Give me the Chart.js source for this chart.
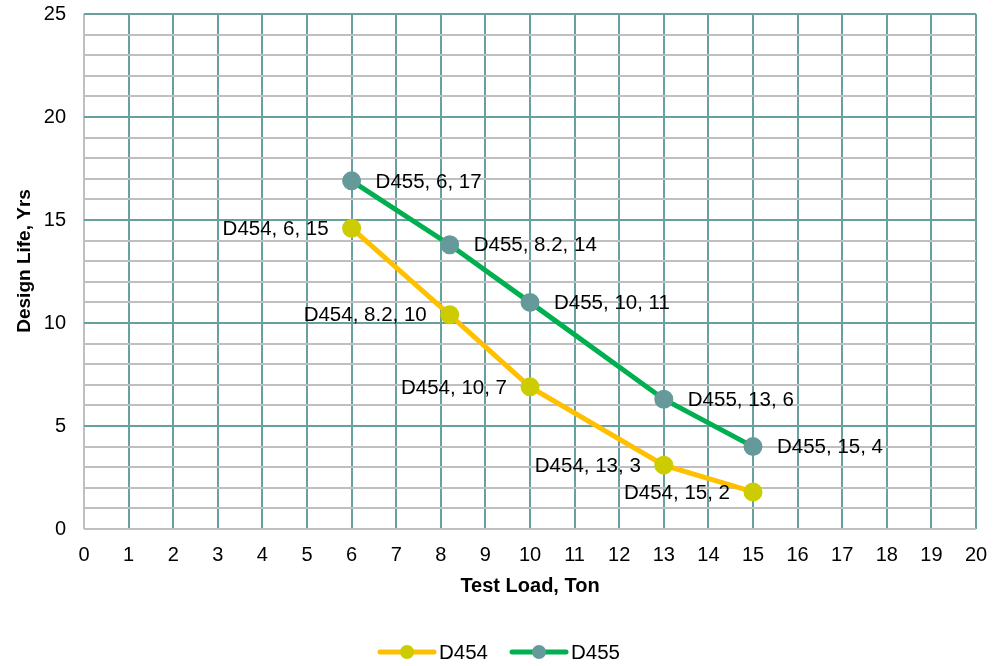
<!DOCTYPE html>
<html>
<head>
<meta charset="utf-8">
<script src="https://cdn.jsdelivr.net/npm/chart.js@4/dist/chart.umd.min.js"></script>
<style>
  html, body { margin: 0; padding: 0; background: #fff; }
  #wrap { width: 994px; height: 666px; }
</style>
</head>
<body>
<div id="wrap"><canvas id="canva1" width="994" height="666"></canvas></div>
<script>
// data
const testLoad = [6, 8.2, 10, 13, 15];
const d454Life = [14.6, 10.4, 6.9, 3.1, 1.8];
const d455Life = [16.9, 13.8, 11.0, 6.3, 4.0];
const seriesNames = ['D454', 'D455'];

// colours
const tealGrid = '#68A0A0';
const grayGrid = '#BFBFBF';
const textColor = '#000000';
const fontFamily = '"Liberation Sans", Arial, sans-serif';

const d454Style = { line: '#FFC000', marker: '#CCCC00', labelSide: 'left' };
const d455Style = { line: '#00B050', marker: '#669999', labelSide: 'right' };

const toPoints = (xs, ys) => xs.map((x, i) => ({ x: x, y: ys[i] }));

// point labels like "D454, 6, 15"
const pointLabels = {
    id: 'pointLabels',
    afterDatasetsDraw(chart) {
        const ctx = chart.ctx;
        ctx.save();
        ctx.font = '20.5px ' + fontFamily;
        ctx.fillStyle = textColor;
        ctx.textBaseline = 'middle';
        chart.data.datasets.forEach((ds, di) => {
            const meta = chart.getDatasetMeta(di);
            meta.data.forEach((pt, i) => {
                const v = ds.data[i];
                const txt = ds.label + ', ' + v.x + ', ' + Math.round(v.y);
                if (ds.labelSide === 'left') {
                    ctx.textAlign = 'right';
                    ctx.fillText(txt, pt.x - 23, pt.y + 1);
                } else {
                    ctx.textAlign = 'left';
                    ctx.fillText(txt, pt.x + 24, pt.y + 1);
                }
            });
        });
        ctx.restore();
    }
};

// legend with line + marker, drawn at the bottom
const lineLegend = {
    id: 'lineLegend',
    afterDraw(chart) {
        const ctx = chart.ctx;
        const y = 652;
        const items = [
            { x: 380, ds: chart.data.datasets[0] },
            { x: 512, ds: chart.data.datasets[1] }
        ];
        ctx.save();
        items.forEach(it => {
            ctx.strokeStyle = it.ds.borderColor;
            ctx.lineWidth = 5;
            ctx.lineCap = 'round';
            ctx.beginPath();
            ctx.moveTo(it.x, y);
            ctx.lineTo(it.x + 54, y);
            ctx.stroke();
            ctx.fillStyle = it.ds.pointBackgroundColor;
            ctx.beginPath();
            ctx.arc(it.x + 27, y, 7, 0, Math.PI * 2);
            ctx.fill();
            ctx.fillStyle = textColor;
            ctx.font = '20.5px ' + fontFamily;
            ctx.textAlign = 'left';
            ctx.textBaseline = 'middle';
            ctx.fillText(it.ds.label, it.x + 59, y + 1);
        });
        ctx.restore();
    }
};

const makeDataset = (name, ys, style) => ({
    label: name,
    data: toPoints(testLoad, ys),
    borderColor: style.line,
    backgroundColor: style.line,
    pointBackgroundColor: style.marker,
    pointBorderColor: style.marker,
    pointRadius: 7,
    pointHoverRadius: 7,
    borderWidth: 5,
    tension: 0,
    labelSide: style.labelSide
});

const chartConfig = {
    type: 'line',
    data: {
        datasets: [
            makeDataset(seriesNames[0], d454Life, d454Style),
            makeDataset(seriesNames[1], d455Life, d455Style)
        ]
    },
    options: {
        responsive: false,
        animation: false,
        layout: { padding: { top: 0, right: 18, bottom: 68, left: 0 } },
        scales: {
            x: {
                type: 'linear',
                min: 0,
                max: 20,
                ticks: {
                    stepSize: 1,
                    autoSkip: false,
                    color: textColor,
                    padding: 14,
                    font: { size: 20, family: fontFamily }
                },
                grid: {
                    drawTicks: false,
                    lineWidth: 2,
                    color: c => c.tick && c.tick.value === 0 ? grayGrid : tealGrid
                },
                border: { display: false },
                title: {
                    display: true,
                    text: 'Test Load, Ton',
                    color: textColor,
                    font: { size: 20, weight: 'bold', family: fontFamily },
                    padding: { top: 0, bottom: 0 }
                },
                afterFit: s => {
                    s.height = 69;
                    s.paddingLeft = 0;
                    s.paddingRight = 0;
                }
            },
            y: {
                min: 0,
                max: 25,
                ticks: {
                    stepSize: 1,
                    autoSkip: false,
                    color: textColor,
                    padding: 18,
                    font: { size: 20, family: fontFamily },
                    callback: v => (v % 5 === 0 ? v : '')
                },
                grid: {
                    drawTicks: false,
                    lineWidth: 2,
                    color: c => (c.tick && c.tick.value % 5 === 0 && c.tick.value !== 0) ? tealGrid : grayGrid
                },
                border: { display: false },
                title: {
                    display: true,
                    // leading spaces nudge the title up a little, as in the original
                    text: '    Design Life, Yrs',
                    color: textColor,
                    font: { size: 19, weight: 'bold', family: fontFamily },
                    padding: { top: 13, bottom: 0 }
                },
                afterFit: s => {
                    s.width = 84;
                    s.paddingTop = 14;
                    s.paddingBottom = 0;
                }
            }
        },
        plugins: {
            legend: { display: false },
            tooltip: { enabled: false }
        }
    },
    plugins: [pointLabels, lineLegend]
};

window.onload = () => {
    const ctx1 = document.getElementById('canva1').getContext('2d');
    new Chart(ctx1, chartConfig);
};
</script>
</body>
</html>
